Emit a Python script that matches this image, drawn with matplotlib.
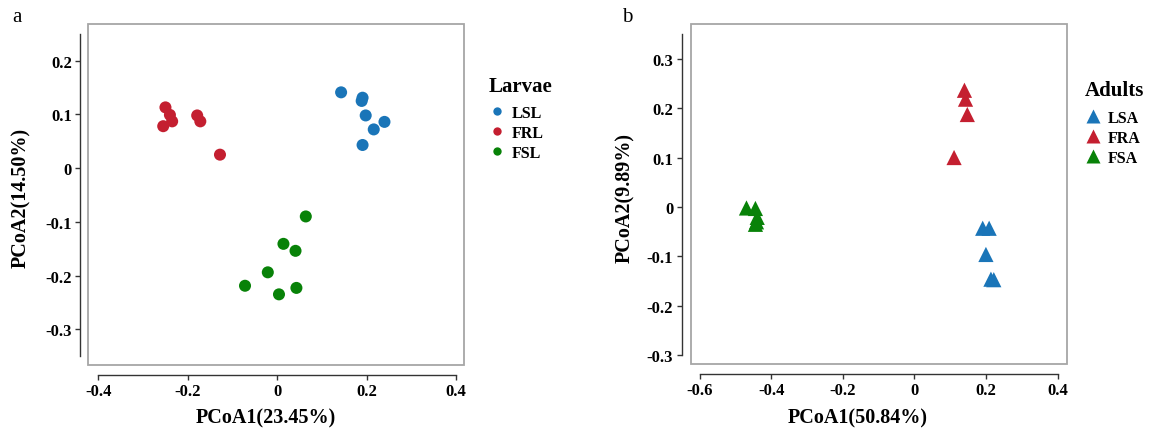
import matplotlib
matplotlib.use("Agg")
import matplotlib.pyplot as plt
from matplotlib.patches import Rectangle
from matplotlib.lines import Line2D

# ---------------- data ----------------
# Panel a (Larvae)
lsl_x = [0.143, 0.191, 0.189, 0.198, 0.240, 0.216, 0.191]
lsl_y = [0.141, 0.131, 0.125, 0.098, 0.086, 0.072, 0.043]
frl_x = [-0.250, -0.240, -0.235, -0.255, -0.179, -0.172, -0.128]
frl_y = [0.113, 0.099, 0.087, 0.078, 0.098, 0.087, 0.025]
fsl_x = [0.064, 0.014, 0.041, -0.021, -0.072, 0.004, 0.043]
fsl_y = [-0.090, -0.141, -0.154, -0.194, -0.219, -0.235, -0.223]

# Panel b (Adults)
lsa_x = [0.191, 0.209, 0.200, 0.214, 0.222]
lsa_y = [-0.043, -0.043, -0.096, -0.146, -0.147]
fra_x = [0.140, 0.143, 0.148, 0.111]
fra_y = [0.236, 0.218, 0.187, 0.100]
fsa_x = [-0.469, -0.444, -0.439, -0.444, -0.441]
fsa_y = [-0.002, -0.003, -0.021, -0.035, -0.030]

a_xticks = [-0.4, -0.2, 0, 0.2, 0.4]
a_xticklabels = ["-0.4", "-0.2", "0", "0.2", "0.4"]
a_yticks = [-0.3, -0.2, -0.1, 0, 0.1, 0.2]
a_yticklabels = ["-0.3", "-0.2", "-0.1", "0", "0.1", "0.2"]
b_xticks = [-0.6, -0.4, -0.2, 0, 0.2, 0.4]
b_xticklabels = ["-0.6", "-0.4", "-0.2", "0", "0.2", "0.4"]
b_yticks = [-0.3, -0.2, -0.1, 0, 0.1, 0.2, 0.3]
b_yticklabels = ["-0.3", "-0.2", "-0.1", "0", "0.1", "0.2", "0.3"]

larvae_labels = ["LSL", "FRL", "FSL"]
adult_labels = ["LSA", "FRA", "FSA"]

BLUE = "#1a75b8"
RED = "#c41f30"
GREEN = "#088208"

plt.rcParams["font.family"] = ["Liberation Serif", "DejaVu Serif"]
plt.rcParams["font.weight"] = "bold"

W, H = 1153, 431
fig = plt.figure(figsize=(W / 100, H / 100), dpi=100)


def px_axes(l, t, r, b):
    return fig.add_axes([l / W, 1 - b / H, (r - l) / W, (b - t) / H])


def style_axes(ax, xlim, ylim, xticks, xtl, yticks, ytl, xb, yb, ly_out, xlabel, ylabel,
               xl_pos, yl_pos):
    ax.set_xlim(*xlim)
    ax.set_ylim(*ylim)
    for s in ["top", "right"]:
        ax.spines[s].set_visible(False)
    ax.spines["left"].set_position(("outward", ly_out * 0.72))
    ax.spines["bottom"].set_position(("outward", 10 * 0.72))
    ax.spines["left"].set_bounds(*yb)
    ax.spines["bottom"].set_bounds(*xb)
    for s in ["left", "bottom"]:
        ax.spines[s].set_color("#333333")
        ax.spines[s].set_linewidth(1.0)
    ax.add_patch(Rectangle((0, 0), 1, 1, transform=ax.transAxes, fill=False,
                           ec="#a6a6a6", lw=1.3, clip_on=False, zorder=5))
    ax.set_xticks(xticks)
    ax.set_xticklabels(xtl)
    ax.set_yticks(yticks)
    ax.set_yticklabels(ytl)
    ax.tick_params(direction="out", length=3.6, width=1.0, color="#333333",
                   labelsize=12, pad=2.5)
    for lab in ax.get_xticklabels() + ax.get_yticklabels():
        lab.set_fontweight("bold")
    ax.set_xlabel(xlabel, fontsize=14.5, fontweight="bold")
    ax.set_ylabel(ylabel, fontsize=14.5, fontweight="bold")
    ax.xaxis.set_label_coords(*xl_pos)
    ax.yaxis.set_label_coords(*yl_pos)
    ax.xaxis.label.set_va("center")
    ax.yaxis.label.set_va("center")


def add_legend(handles, labels, title, x_left, title_baseline, first_top):
    fig.text(x_left / W, 1 - title_baseline / H, title, fontsize=15,
             fontweight="bold", ha="left", va="baseline")
    fig.legend(handles, labels, loc="upper left",
               bbox_to_anchor=(x_left / W, 1 - first_top / H), frameon=False,
               prop={"size": 11.5, "weight": "bold"},
               handlelength=1.0, handletextpad=0.45, labelspacing=0.245,
               borderpad=0, borderaxespad=0)


# ---------------- panel a ----------------
axa = px_axes(88.3, 25, 464.3, 366)
ms_c = 75
axa.scatter(lsl_x, lsl_y, s=ms_c, color=BLUE, edgecolors="none", zorder=3)
axa.scatter(frl_x, frl_y, s=ms_c, color=RED, edgecolors="none", zorder=3)
axa.scatter(fsl_x, fsl_y, s=ms_c, color=GREEN, edgecolors="none", zorder=3)
style_axes(axa, (-0.4226, 0.4186), (-0.3665, 0.2682), a_xticks, a_xticklabels,
           a_yticks, a_yticklabels, (-0.4, 0.4), (-0.35, 0.25), 8,
           "PCoA1(23.45%)", "PCoA2(14.50%)",
           ((265.5 - 88.3) / 376, (366 - 418) / 341),
           ((20.7 - 88.3) / 376, (366 - 198) / 341))

ha = [Line2D([], [], ls="none", marker="o", ms=6, color=c, mec="none")
      for c in (BLUE, RED, GREEN)]
add_legend(ha, larvae_labels, "Larvae", 489, 92.5, 106)

# ---------------- panel b ----------------
axb = px_axes(691, 25, 1066.7, 365)
ms_t = 120
axb.scatter(lsa_x, lsa_y, s=ms_t, marker="^", color=BLUE, edgecolors="none", zorder=3)
axb.scatter(fra_x, fra_y, s=ms_t, marker="^", color=RED, edgecolors="none", zorder=3)
axb.scatter(fsa_x, fsa_y, s=ms_t, marker="^", color=GREEN, edgecolors="none", zorder=3)
style_axes(axb, (-0.624, 0.4257), (-0.3175, 0.370), b_xticks, b_xticklabels,
           b_yticks, b_yticklabels, (-0.6, 0.4), (-0.3, 0.35), 9.3,
           "PCoA1(50.84%)", "PCoA2(9.89%)",
           ((858 - 691) / 375.7, (365 - 418) / 340),
           ((625 - 691) / 375.7, (365 - 198) / 340))

hb = [Line2D([], [], ls="none", marker="^", ms=10.5, color=c, mec="none")
      for c in (BLUE, RED, GREEN)]
add_legend(hb, adult_labels, "Adults", 1085, 96.5, 111)

fig.text(12 / W, 1 - 18 / H, "a", fontsize=15, fontweight="normal", ha="left", va="center")
fig.text(622 / W, 1 - 18 / H, "b", fontsize=15, fontweight="normal", ha="left", va="center")

fig.savefig("out.png", dpi=100)
